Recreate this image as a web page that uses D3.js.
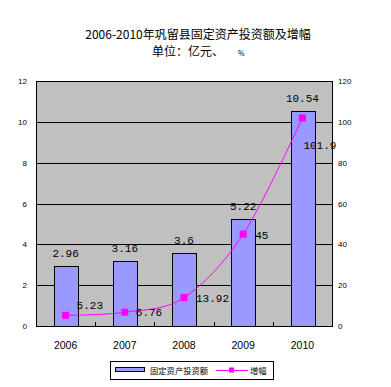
<!DOCTYPE html>
<html>
<head>
<meta charset="utf-8">
<script src="https://cdn.jsdelivr.net/npm/d3@7"></script>
<style>
    html, body { margin: 0; padding: 0; background: #ffffff; }
    svg { display: block; }
</style>
</head>
<body>
<div id="chart"></div>
<script>
const width = 391;
const height = 387;

// 年份
const years = ["2006", "2007", "2008", "2009", "2010"];
// 固定资产投资额（亿元）
const investment = [2.96, 3.16, 3.6, 5.22, 10.54];
// 增幅（%）
const growth = [5.23, 6.76, 13.92, 45, 101.9];
// 刻度
const leftTicks = [0, 2, 4, 6, 8, 10, 12];
const rightTicks = [0, 20, 40, 60, 80, 100, 120];

const plot = { left: 36, right: 332, top: 81, bottom: 326 };

const svg = d3
    .select("#chart")
    .append("svg")
    .attr("width", width)
    .attr("height", height)
    .attr("viewBox", `0 0 ${width} ${height}`);

const cjk = "'Noto Sans CJK SC', sans-serif";
const mono = "'Liberation Mono', monospace";

// 标题
svg.append("text")
    .attr("x", 198)
    .attr("y", 39)
    .attr("text-anchor", "middle")
    .style("font-family", cjk)
    .style("font-size", "12px")
    .text("2006-2010年巩留县固定资产投资额及增幅");

const sub = svg.append("text")
    .attr("x", 152)
    .attr("y", 56)
    .style("font-family", cjk)
    .style("font-size", "12px");
sub.append("tspan").text("单位：亿元、");
sub.append("tspan").attr("dx", 14).style("font-size", "7px").text("%");

// 比例尺
const x = d3.scaleBand()
    .domain(years)
    .range([plot.left, plot.right])
    .paddingInner(0)
    .paddingOuter(0);

const yLeft = d3.scaleLinear().domain([0, 12]).range([plot.bottom, plot.top]);
const yRight = d3.scaleLinear().domain([0, 120]).range([plot.bottom, plot.top]);

// 绘图区背景
svg.append("rect")
    .attr("x", plot.left)
    .attr("y", plot.top)
    .attr("width", plot.right - plot.left)
    .attr("height", plot.bottom - plot.top)
    .attr("fill", "#c0c0c0");

// 网格线
svg.selectAll(".grid")
    .data(leftTicks)
    .enter()
    .append("line")
    .attr("x1", plot.left)
    .attr("x2", plot.right)
    .attr("y1", d => Math.round(yLeft(d)) + 0.5)
    .attr("y2", d => Math.round(yLeft(d)) + 0.5)
    .attr("stroke", "#000")
    .attr("stroke-width", 1);

// 柱
const barW = x.bandwidth() / 2.5;
svg.selectAll(".bar")
    .data(investment)
    .enter()
    .append("rect")
    .attr("x", (d, i) => Math.round(x(years[i]) + x.bandwidth() / 2 - barW / 2) + 0.5)
    .attr("y", d => Math.round(yLeft(d)) + 0.5)
    .attr("width", Math.round(barW))
    .attr("height", d => plot.bottom - Math.round(yLeft(d)))
    .attr("fill", "#9999ff")
    .attr("stroke", "#000")
    .attr("stroke-width", 1);

// 柱标签
svg.selectAll(".barLabel")
    .data(investment)
    .enter()
    .append("text")
    .attr("x", (d, i) => x(years[i]) + x.bandwidth() / 2)
    .attr("y", d => yLeft(d) - 9)
    .attr("text-anchor", "middle")
    .style("font-family", mono)
    .style("font-size", "11px")
    .text(d => d);

// 坐标轴
const axisG = svg.append("g").attr("stroke", "#000").attr("stroke-width", 1);
axisG.append("line")
    .attr("x1", plot.left + 0.5).attr("x2", plot.left + 0.5)
    .attr("y1", plot.top).attr("y2", plot.bottom + 0.5);
axisG.append("line")
    .attr("x1", plot.right + 0.5).attr("x2", plot.right + 0.5)
    .attr("y1", plot.top).attr("y2", plot.bottom + 0.5);
axisG.append("line")
    .attr("x1", plot.left).attr("x2", plot.right + 1)
    .attr("y1", plot.bottom + 0.5).attr("y2", plot.bottom + 0.5);

// x 轴刻度（分类边界）
axisG.selectAll(".xtick")
    .data(years.slice(1))
    .enter()
    .append("line")
    .attr("x1", d => Math.round(x(d)) + 0.5)
    .attr("x2", d => Math.round(x(d)) + 0.5)
    .attr("y1", plot.bottom)
    .attr("y2", plot.bottom - 4);

// 折线
const line = d3.line()
    .x((d, i) => x(years[i]) + x.bandwidth() / 2)
    .y(d => yRight(d))
    .curve(d3.curveCardinal.tension(0));

svg.append("path")
    .datum(growth)
    .attr("d", line)
    .attr("fill", "none")
    .attr("stroke", "#ff00ff")
    .attr("stroke-width", 1);

svg.selectAll(".marker")
    .data(growth)
    .enter()
    .append("rect")
    .attr("x", (d, i) => x(years[i]) + x.bandwidth() / 2 - 3.5)
    .attr("y", d => yRight(d) - 3.5)
    .attr("width", 7)
    .attr("height", 7)
    .attr("fill", "#ff00ff");

// 折线标签（首尾位置微调）
const nudge = [[11, -6], [11, 4], [12, 4], [12, 5], [1, 31]];
svg.selectAll(".lineLabel")
    .data(growth)
    .enter()
    .append("text")
    .attr("x", (d, i) => x(years[i]) + x.bandwidth() / 2 + nudge[i][0])
    .attr("y", (d, i) => yRight(d) + nudge[i][1])
    .style("font-family", mono)
    .style("font-size", "11px")
    .text(d => d);

// 左轴刻度标签
svg.selectAll(".lt")
    .data(leftTicks)
    .enter()
    .append("text")
    .attr("x", 27)
    .attr("y", d => yLeft(d) + 3)
    .attr("text-anchor", "end")
    .style("font-family", "'Liberation Sans', sans-serif")
    .style("font-size", "8px")
    .text(d => d);

// 右轴刻度标签
svg.selectAll(".rt")
    .data(rightTicks)
    .enter()
    .append("text")
    .attr("x", 338)
    .attr("y", d => yRight(d) + 3)
    .style("font-family", "'Liberation Sans', sans-serif")
    .style("font-size", "8px")
    .text(d => d);

// x 轴标签
svg.selectAll(".xl")
    .data(years)
    .enter()
    .append("text")
    .attr("x", d => x(d) + x.bandwidth() / 2)
    .attr("y", 349)
    .attr("text-anchor", "middle")
    .style("font-family", "'Liberation Sans', sans-serif")
    .style("font-size", "10.5px")
    .text(d => d);

// 图例
const legend = svg.append("g");
legend.append("rect")
    .attr("x", 110.5).attr("y", 361.5)
    .attr("width", 163).attr("height", 18)
    .attr("fill", "#fff").attr("stroke", "#000");
legend.append("rect")
    .attr("x", 115.5).attr("y", 367.5)
    .attr("width", 29).attr("height", 4)
    .attr("fill", "#9999ff").attr("stroke", "#000");
legend.append("text")
    .attr("x", 150).attr("y", 374)
    .style("font-family", cjk).style("font-size", "8.3px")
    .text("固定资产投资额");
legend.append("line")
    .attr("x1", 216).attr("x2", 248)
    .attr("y1", 370.5).attr("y2", 370.5)
    .attr("stroke", "#ff00ff");
legend.append("rect")
    .attr("x", 229).attr("y", 367.5)
    .attr("width", 5).attr("height", 5)
    .attr("fill", "#ff00ff");
legend.append("text")
    .attr("x", 250).attr("y", 374)
    .style("font-family", cjk).style("font-size", "8.3px")
    .text("增幅");
</script>
</body>
</html>
